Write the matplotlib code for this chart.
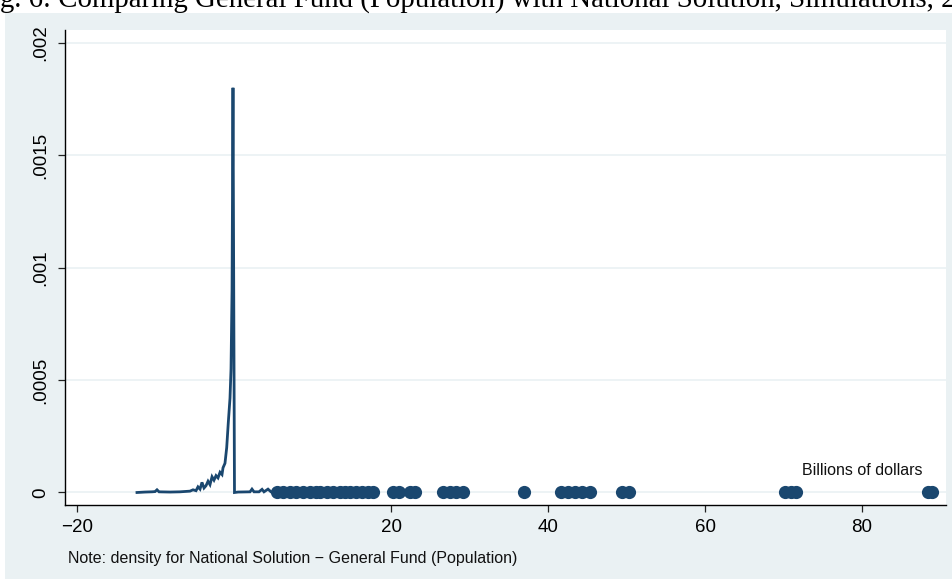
import matplotlib
matplotlib.use("Agg")
import matplotlib.pyplot as plt
from matplotlib.patches import Rectangle

# density curve (billions of dollars, density)
dens_x = [-12.36, -11.34, -10.45, -10.06, -9.81, -9.55, -8.15, -6.88, -5.61, -5.22,
          -4.84, -4.59, -4.33, -4.08, -3.82, -3.57, -3.31, -3.06, -2.80, -2.55,
          -2.29, -2.04, -1.78, -1.53, -1.40, -1.15, -0.93, -0.73, -0.51, -0.38,
          -0.25, -0.13, 0.06, 0.51, 2.04, 2.29, 2.55, 3.18, 3.57, 3.82,
          4.33, 4.71, 5.22]
dens_y = [0.0, 0.000002, 0.000003, 0.000004, 0.000012, 0.000003, 0.000002, 0.000003, 0.000006, 0.000012,
          0.000008, 0.000025, 0.000015, 0.000045, 0.000020, 0.000030, 0.000050, 0.000035, 0.000070, 0.000055,
          0.000075, 0.000065, 0.000090, 0.000080, 0.000110, 0.000130, 0.000200, 0.000310, 0.000420, 0.000550,
          0.000900, 0.001800, 0.0, 0.000002, 0.000003, 0.000015, 0.000003, 0.000003, 0.000014, 0.000003,
          0.000015, 0.000003, 0.000005]

# simulation values shown as markers on the zero line
sim_x = [5.48, 6.24, 7.13, 7.9, 8.8, 9.7, 10.4, 10.95, 11.85, 12.6, 13.5, 14.1, 14.8,
         15.5, 16.3, 17.1, 17.7, 20.25, 21.0, 22.4, 23.1, 26.6, 27.5, 28.3, 29.2,
         36.9, 41.7, 42.5, 43.4, 44.3, 45.4, 49.4, 50.3, 70.2, 71.0, 71.6, 88.4, 88.9]
sim_y = [0.0] * len(sim_x)

xticks = [-20, 20, 40, 60, 80]
yticks = [0, 0.0005, 0.001, 0.0015, 0.002]
ytick_labels = ["0", ".0005", ".001", ".0015", ".002"]

navy = "#1A476F"
region = "#EAF1F3"

W, H = 952, 579
fig = plt.figure(figsize=(W / 100, H / 100), dpi=100, facecolor="white")
fig.patches.append(Rectangle((5 / W, 0), 1, (H - 13) / H, transform=fig.transFigure,
                             facecolor=region, edgecolor="none", zorder=-10))

fig.text(-24 / W, (H - 7) / H, "Fig. 6: Comparing General Fund (Population) with National Solution, Simulations, 2000",
         family="Liberation Serif", fontsize=20.8, ha="left", va="baseline", color="black")

ax = fig.add_axes([65 / W, (H - 505) / H, (946 - 65) / W, (505 - 30) / H])
ax.set_facecolor("white")

ax.plot(dens_x, dens_y, color=navy, lw=2.0, zorder=3, solid_joinstyle="miter")
ax.plot(sim_x, sim_y, "o", color=navy, markersize=9.5, markeredgewidth=0, zorder=4)

ax.set_xlim(-21.53, 90.7)
ax.set_ylim(-0.0000556, 0.002057)
ax.set_xticks(xticks)
ax.set_xticklabels(["\u221220", "20", "40", "60", "80"])
ax.set_yticks(yticks)
ax.set_yticklabels(ytick_labels, rotation=90, va="center")

for y in yticks:
    ax.axhline(y, color=region, lw=1.2, zorder=1)

for side in ["top", "right"]:
    ax.spines[side].set_visible(False)
for side in ["left", "bottom"]:
    ax.spines[side].set_color("black")
    ax.spines[side].set_linewidth(1.0)

ax.tick_params(axis="both", length=5, width=0.9, color="#222222", labelsize=13.5)
ax.tick_params(axis="x", pad=5)
ax.tick_params(axis="y", pad=6)
for lab in ax.get_xticklabels() + ax.get_yticklabels():
    lab.set_family("Liberation Sans")

ax.text(80, 0.0001, "Billions of dollars", ha="center", va="center",
        family="Liberation Sans", fontsize=11.5, color="#111111", zorder=5)

fig.text(68 / W, (H - 563) / H, "Note: density for National Solution \u2212 General Fund (Population)",
         family="Liberation Sans", fontsize=11.5, ha="left", va="baseline", color="#111111")

fig.savefig("out.png", dpi=100, facecolor=fig.get_facecolor())
